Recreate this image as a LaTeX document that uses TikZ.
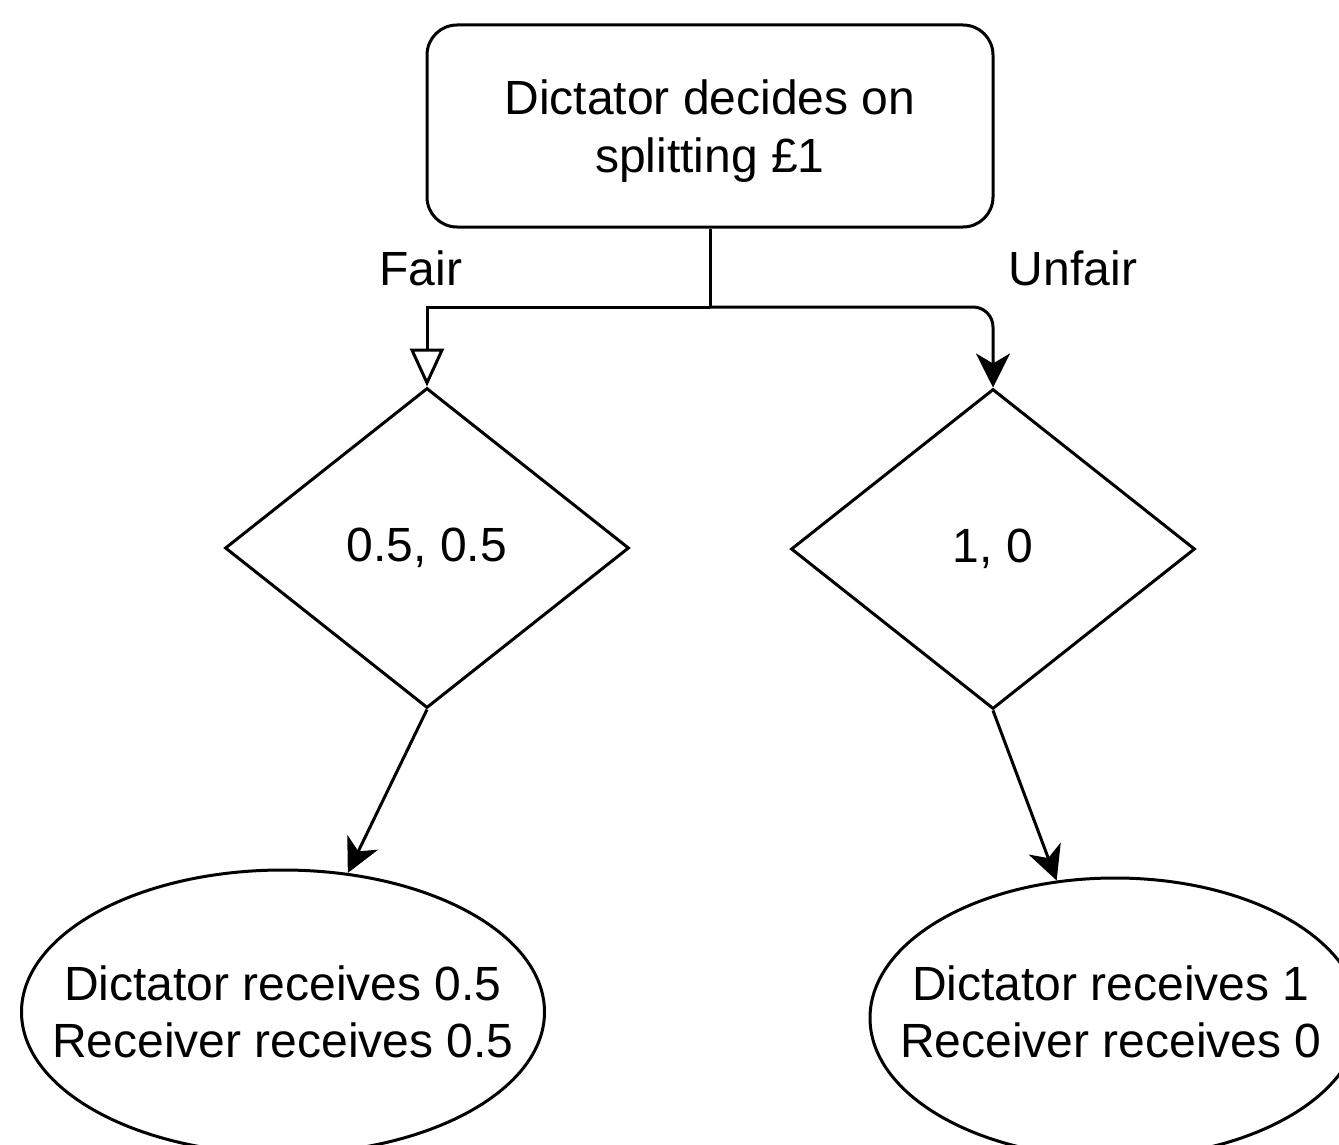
\documentclass[tikz,border=0pt]{standalone}
\usepackage{fontspec}
\setmainfont{Liberation Sans}
\usetikzlibrary{shapes.geometric,arrows.meta}
\begin{document}
\begin{tikzpicture}[x=0.5pt,y=-0.5pt,
  every node/.style={font=\fontsize{24}{29}\selectfont},
  box/.style={draw,line width=1.5pt,rounded corners=15pt,minimum width=283pt,minimum height=101pt,align=center,inner sep=0pt},
  dia/.style={draw,line width=1.5pt,diamond,minimum width=202pt,minimum height=160pt,inner sep=0pt},
  ell/.style={draw,line width=1.5pt,ellipse,inner sep=0pt},
  conn/.style={line width=1.5pt},
  filledtip/.style={-{Stealth[length=17pt,width=17pt,inset=5pt]}},
  opentip/.style={-{Triangle[open,length=19pt,width=17pt]}},
  lbl/.style={inner sep=0pt}
]
\useasboundingbox (0,0) rectangle (1339,1145);
\node[box] (top) at (710,126) {};
\node[align=center] (toptext) at (710,131) {Dictator decides on\\splitting £1};
\node[dia] (ld) at (427,548) {0.5, 0.5};
\node[dia] (rd) at (993,549) {1, 0};
\node[ell,minimum width=261.5pt,minimum height=142pt,
  label={[align=center,font=\fontsize{24}{28.5}\selectfont]center:{Dictator receives 0.5\\Receiver receives 0.5}}] (le) at (283,1012) {};
\node[ell,minimum width=245pt,minimum height=140pt,
  label={[align=center,font=\fontsize{24}{28.5}\selectfont,xshift=-2pt,yshift=3pt]center:{Dictator receives 1\\Receiver receives 0}}] (re) at (1115,1018) {};
\node[lbl] (fair) at (421,268) {Fair};
\node[lbl] (unfair) at (1073,268) {Unfair};
\coordinate (split) at (710,307);
\coordinate (lc) at (427,307);
\coordinate (rc) at (993,307);
\draw[conn] (top.south) -- (split);
\draw[conn,opentip] (split) -- (lc) -- (ld.north);
\draw[conn,filledtip,rounded corners=10pt] (split) -- (rc) -- (rd.north);
\draw[conn,filledtip] (ld.south) -- (le.65);
\draw[conn,filledtip] (rd.south) -- (re.113);
\end{tikzpicture}
\end{document}
